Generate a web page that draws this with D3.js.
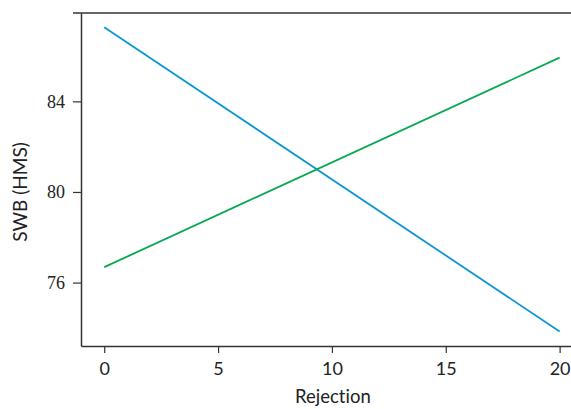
<!DOCTYPE html>
<html>
<head>
<meta charset="utf-8">
<script src="https://cdn.jsdelivr.net/npm/d3@7"></script>
<style>
  body { margin: 0; background: #fff; }
  .xt text, .xlab, .ylab { font-family: "Lato", "Open Sans", sans-serif; font-variant-ligatures: none; }
  .yt text { font-family: "Liberation Serif", serif; }
</style>
</head>
<body>
<div id="chart"></div>
<script>
// data
const rejection = [0, 20];
const blueLine = [87.27, 73.84];
const greenLine = [76.68, 85.93];
const xTicks = [0, 5, 10, 15, 20];
const yTicks = [76, 80, 84];

const width = 571, height = 409;
const margin = {top: 13, right: 0, bottom: 63, left: 81};

const x = d3.scaleLinear().domain([-1.02, 20.5]).range([margin.left, width - margin.right]);
const y = d3.scaleLinear().domain([73.2, 87.9]).range([height - margin.bottom, margin.top]);

const svg = d3.select('#chart').append('svg').attr('width', width).attr('height', height);

const axisColor = '#333';

const xAxis = (g) => g.attr('class', 'xt')
  .attr('transform', `translate(0,${height - margin.bottom})`)
  .call(d3.axisBottom(x).tickValues(xTicks).tickSize(7).tickSizeOuter(0))
  .call((g) => g.select('.domain').attr('stroke', axisColor).attr('stroke-width', 1.5))
  .call((g) => g.selectAll('.tick line').attr('stroke', axisColor).attr('stroke-width', 1.2))
  .call((g) => g.selectAll('.tick text').attr('fill', '#222').attr('font-size', 18).attr('dy', '1.05em'));

const yAxis = (g) => g.attr('class', 'yt')
  .attr('transform', `translate(${margin.left},0)`)
  .call(d3.axisLeft(y).tickValues(yTicks).tickSize(8).tickSizeOuter(0))
  .call((g) => g.select('.domain').attr('stroke', axisColor).attr('stroke-width', 1.5))
  .call((g) => g.selectAll('.tick line').attr('stroke', axisColor).attr('stroke-width', 1.2))
  .call((g) => g.selectAll('.tick text').attr('fill', '#222').attr('font-size', 18).attr('x', -16));

svg.append('g').call(xAxis);
svg.append('g').call(yAxis);

// top frame line
svg.append('line')
  .attr('x1', margin.left - 8).attr('x2', width)
  .attr('y1', y.range()[1]).attr('y2', y.range()[1])
  .attr('stroke', axisColor).attr('stroke-width', 1.5);

const line = d3.line().x((d, i) => x(rejection[i])).y((d) => y(d));

svg.append('path').datum(blueLine).attr('d', line)
  .attr('fill', 'none').attr('stroke', '#0a97d4').attr('stroke-width', 1.8);
svg.append('path').datum(greenLine).attr('d', line)
  .attr('fill', 'none').attr('stroke', '#06a853').attr('stroke-width', 1.8);

svg.append('text').attr('class', 'xlab')
  .attr('x', (x(0) + x(20)) / 2 + 1).attr('y', 403)
  .attr('text-anchor', 'middle').attr('font-size', 18.5).attr('fill', '#222')
  .text('Rejection');

svg.append('text').attr('class', 'ylab')
  .attr('transform', `translate(27,${y(80)}) rotate(-90)`)
  .attr('text-anchor', 'middle').attr('font-size', 19).attr('fill', '#222')
  .text('SWB (HMS)');
</script>
</body>
</html>
